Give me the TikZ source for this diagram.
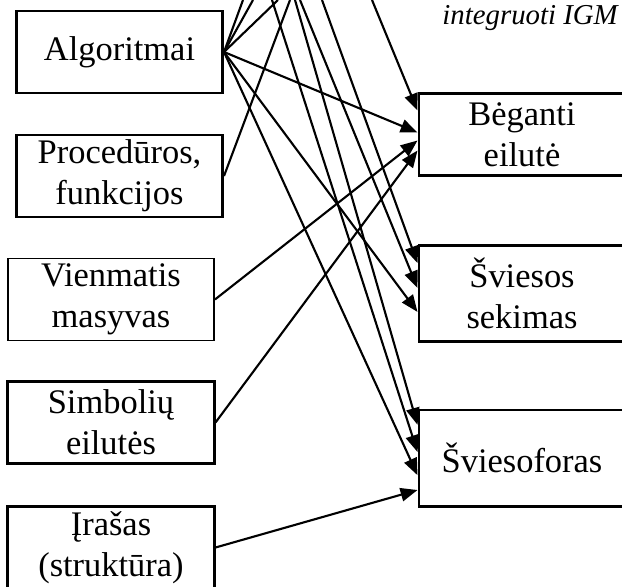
\documentclass[tikz,border=0pt]{standalone}
\usepackage{fontspec}
\setmainfont{Liberation Serif}
\usetikzlibrary{arrows.meta}

\begin{document}
\begin{tikzpicture}[x=0.025cm, y=-0.025cm, >={Triangle[length=12pt, width=9.5pt]},
    box/.style={draw, line width=2.1pt, minimum width=5.15cm, minimum height=2.05cm,
        inner sep=0pt, align=center, font=\fontsize{24.5}{29}\selectfont},
    link/.style={line width=1.5pt}]
    \useasboundingbox (0,0) rectangle (622,586);
    \clip (0,0) rectangle (622,586);

    % Topics
    \node[box] (alg) at (119.5,52) {Algoritmai};
    \node[box] (proc) at (119.5,176) {Procedūros,\\funkcijos};
    \node[box, line width=1.3pt] (vien) at (111,299.5) {Vienmatis\\masyvas};
    \node[box] (simb) at (111,422.5) {Simbolių\\eilutės};
    \node[box] (iras) at (111,547.5) {Įrašas\\(struktūra)};

    % Projects
    \node[box] (beg) at (522,134.5) {Bėganti\\eilutė};
    \node[box, minimum height=2.42cm] (svs) at (522,293.5) {Šviesos\\sekimas};
    \node[box, minimum height=2.4cm] (sfo) at (522,458) {Šviesoforas};

    \node[anchor=base east, inner sep=0pt, font=\itshape\fontsize{20.5}{24}\selectfont] (igm) at (618,24) {integruoti IGM};

    % Ends on the top edge
    \coordinate (t1) at (372,0);
    \coordinate (t2) at (322,0);
    \coordinate (t3) at (300,0);
    \coordinate (t4) at (295,0);
    \coordinate (t5) at (272,0);
    \coordinate (a1) at (243,0);
    \coordinate (a2) at (253,0);
    \coordinate (a3) at (278,0);
    \coordinate (p1) at (290,0);

    % Connections
    \foreach \to in {a1,a2,a3}
        \draw[link] (alg.east) -- (\to);
    \draw[link] (proc.east) -- (p1);

    \foreach \from/\to/\dy in {t1/beg/0.6, alg.east/beg/0.05, vien.east/beg/-0.15, simb.east/beg/-0.4,
                               t2/svs/0.76, t3/svs/0.14, alg.east/svs/-0.46,
                               t4/sfo/0.83, t5/sfo/0.15, alg.east/sfo/-0.43, iras.east/sfo/-0.8}
        \draw[link, ->] (\from) -- ([yshift=\dy cm]\to.west);
\end{tikzpicture}
\end{document}
